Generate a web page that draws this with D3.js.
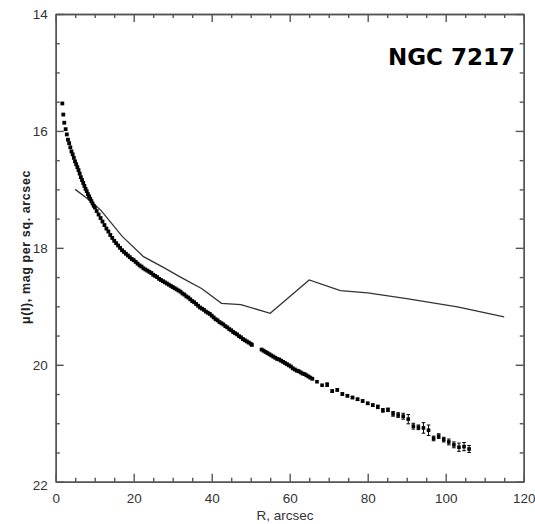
<!DOCTYPE html>
<html>
<head>
<meta charset="utf-8">
<script src="https://cdn.jsdelivr.net/npm/d3@7"></script>
<style>
  body { margin: 0; background: #fff; }
  svg { display: block; }
  .axis path, .axis line { stroke: #555; stroke-width: 1.4; }
  .axis text { fill: #333; font-family: "Liberation Sans", Arial, sans-serif; font-size: 13.5px; }
</style>
</head>
<body>
<svg width="535" height="524"></svg>
<script>
// ---- data ----
// observed profile, inner part (dense sampling)
var rInner = [1.7, 1.95, 2.2, 2.55, 2.85, 3.15, 3.45, 3.75, 4.05, 4.35, 4.65, 4.95, 5.25, 5.55, 5.85, 6.15, 6.45, 6.75,
  7.05, 7.35, 7.65, 7.95, 8.25, 8.55, 8.85, 9.15, 9.45, 9.75, 10.05,
  10.5, 11, 11.5, 12, 12.5, 13, 13.5, 14, 14.5, 15, 15.5, 16, 16.5, 17, 17.5, 18, 18.5, 19, 19.5, 20,
  20.5, 21, 21.5, 22, 22.5, 23, 23.5, 24, 24.5, 25, 25.5, 26, 26.5, 27, 27.5, 28, 28.5, 29, 29.5, 30,
  30.5, 31, 31.5, 32, 32.5, 33, 33.5, 34, 34.5, 35, 35.5, 36, 36.5, 37, 37.5, 38, 38.5, 39, 39.5, 40,
  40.5, 41, 41.5, 42, 42.5, 43, 43.5, 44, 44.5, 45, 45.5, 46, 46.5, 47, 47.5, 48, 48.5, 49, 49.5, 50, 50.3,
  52.8, 53.3, 53.8, 54.3, 54.8, 55.3, 55.8, 56.3, 56.8, 57.3, 57.8, 58.3, 58.8, 59.3, 59.8, 60.3, 60.8,
  61.3, 61.8, 62.3, 62.8, 63.3, 63.8, 64.3, 64.8, 65.3, 65.8];
var muInner = [15.53, 15.72, 15.86, 15.97, 16.06, 16.15, 16.21, 16.28, 16.35, 16.40, 16.46, 16.52, 16.57, 16.62, 16.67, 16.73, 16.79, 16.84,
  16.89, 16.94, 16.99, 17.03, 17.08, 17.12, 17.16, 17.20, 17.24, 17.28, 17.31,
  17.37, 17.43, 17.49, 17.55, 17.61, 17.67, 17.72, 17.78, 17.83, 17.88, 17.92, 17.96, 18.00, 18.04, 18.07, 18.10, 18.13, 18.16, 18.19, 18.21,
  18.24, 18.27, 18.30, 18.32, 18.35, 18.37, 18.39, 18.41, 18.43, 18.46, 18.48, 18.50, 18.53, 18.55, 18.57, 18.59, 18.61, 18.63, 18.65, 18.67,
  18.69, 18.71, 18.73, 18.75, 18.78, 18.80, 18.83, 18.85, 18.88, 18.91, 18.93, 18.96, 18.99, 19.02, 19.04, 19.06, 19.09, 19.11, 19.13, 19.16,
  19.19, 19.22, 19.24, 19.27, 19.29, 19.31, 19.34, 19.36, 19.39, 19.41, 19.44, 19.46, 19.48, 19.51, 19.53, 19.56, 19.58, 19.60, 19.62, 19.64, 19.66,
  19.74, 19.76, 19.78, 19.80, 19.82, 19.84, 19.86, 19.88, 19.90, 19.91, 19.93, 19.95, 19.97, 19.99, 20.01, 20.03, 20.06,
  20.08, 20.10, 20.11, 20.13, 20.15, 20.16, 20.18, 20.20, 20.22, 20.24];

// observed profile, outer part (with error bars)
var rOuter = [67.0, 68.3, 69.6, 70.9, 72.2, 73.5, 74.8, 76.1, 77.4, 78.7, 80.0, 81.3, 82.6, 83.9, 85.2, 86.5,
  87.8, 89.1, 90.4, 91.7, 93.0, 94.3, 95.6, 96.9, 98.2, 99.5, 100.8, 102.1, 103.4, 104.7, 106.0];
var muOuter = [20.29, 20.35, 20.34, 20.45, 20.43, 20.50, 20.53, 20.56, 20.59, 20.62, 20.66, 20.69, 20.72, 20.78, 20.77, 20.84,
  20.86, 20.88, 20.93, 21.05, 21.07, 21.08, 21.12, 21.26, 21.22, 21.28, 21.32, 21.37, 21.41, 21.40, 21.44];
var errOuter = [0, 0, 0.03, 0.02, 0.02, 0.02, 0.02, 0.02, 0.02, 0.02, 0.02, 0.02, 0.03, 0.03, 0.03, 0.04,
  0.04, 0.05, 0.08, 0.05, 0.04, 0.09, 0.09, 0.04, 0.04, 0.04, 0.05, 0.05, 0.07, 0.07, 0.06];

// solid line
var rLine = [5, 8, 11.5, 17, 22.5, 27.5, 32, 37.5, 42.5, 47.5, 55, 65, 73, 80, 90, 103, 115];
var muLine = [17.0, 17.15, 17.35, 17.8, 18.15, 18.33, 18.5, 18.7, 18.95, 18.97, 19.12, 18.55, 18.73, 18.77, 18.87, 19.01, 19.18];

var xMajor = [0, 20, 40, 60, 80, 100, 120];
var xMinor = [5, 10, 15, 25, 30, 35, 45, 50, 55, 65, 70, 75, 85, 90, 95, 105, 110, 115];
var yMajor = [14, 16, 18, 20, 22];
var yMinor = [14.5, 15, 15.5, 16.5, 17, 17.5, 18.5, 19, 19.5, 20.5, 21, 21.5];

// ---- layout ----
var svg = d3.select("svg"),
    plotL = 55.7, plotR = 523.7, plotT = 14, plotB = 481.7;

var x = d3.scaleLinear().domain([0, 120]).range([plotL, plotR]);
var y = d3.scaleLinear().domain([14, 22]).range([plotT, plotB]);

// axes: ticks point inward on all four sides
function addAxis(axis, tx, ty, vals, size, labels, pad) {
  var a = axis.tickValues(vals).tickSizeInner(size).tickSizeOuter(0).tickPadding(pad || 3);
  if (!labels) a.tickFormat("");
  svg.append("g").attr("class", "axis")
    .attr("transform", "translate(" + tx + "," + ty + ")")
    .call(a);
}
addAxis(d3.axisBottom(x), 0, plotB, xMajor, -8, true, 12);
addAxis(d3.axisBottom(x), 0, plotB, xMinor, -4, false);
addAxis(d3.axisTop(x), 0, plotT, xMajor, -8, false);
addAxis(d3.axisTop(x), 0, plotT, xMinor, -4, false);
addAxis(d3.axisLeft(y), plotL, 0, yMajor, -8, true, 8);
addAxis(d3.axisLeft(y), plotL, 0, yMinor, -4, false);
addAxis(d3.axisRight(y), plotR, 0, yMajor, -8, false);
addAxis(d3.axisRight(y), plotR, 0, yMinor, -4, false);

svg.selectAll(".axis text").filter(function() { return this.textContent === "22"; }).attr("dy", "0.55em");

// solid line
var line = d3.line()
    .x(function(d) { return x(d[0]); })
    .y(function(d) { return y(d[1]); });

svg.append("path")
    .datum(d3.zip(rLine, muLine))
    .attr("d", line)
    .attr("fill", "none")
    .attr("stroke", "#333")
    .attr("stroke-width", 1.3);

// inner points
var sq = 3.8;
svg.append("g").selectAll("rect")
    .data(d3.zip(rInner, muInner))
    .enter().append("rect")
    .attr("x", function(d) { return x(d[0]) - sq / 2; })
    .attr("y", function(d) { return y(d[1]) - sq / 2; })
    .attr("width", sq)
    .attr("height", sq)
    .attr("fill", "#000");

// outer points + error bars
var outer = svg.append("g").selectAll("g")
    .data(d3.zip(rOuter, muOuter, errOuter))
    .enter().append("g");

outer.filter(function(d) { return d[2] > 0; }).append("path")
    .attr("d", function(d) {
      var cx = x(d[0]), y0 = y(d[1] - d[2]), y1 = y(d[1] + d[2]);
      return "M" + (cx - 1.8) + "," + y0 + "H" + (cx + 1.8) +
             "M" + cx + "," + y0 + "V" + y1 +
             "M" + (cx - 1.8) + "," + y1 + "H" + (cx + 1.8);
    })
    .attr("stroke", "#000")
    .attr("stroke-width", 1)
    .attr("fill", "none");

outer.append("rect")
    .attr("x", function(d) { return x(d[0]) - 1.8; })
    .attr("y", function(d) { return y(d[1]) - 1.8; })
    .attr("width", 3.6)
    .attr("height", 3.6)
    .attr("fill", "#000");

// labels
svg.append("text")
    .attr("x", 515)
    .attr("y", 65)
    .attr("text-anchor", "end")
    .style("font-family", "'DejaVu Sans', Verdana, sans-serif")
    .style("font-weight", "bold")
    .style("font-size", "23px")
    .text("NGC 7217");

svg.append("text")
    .attr("x", 285)
    .attr("y", 520)
    .attr("text-anchor", "middle")
    .style("font-family", "'Liberation Sans', Arial, sans-serif")
    .style("font-size", "13.5px")
    .style("fill", "#333")
    .text("R, arcsec");

svg.append("text")
    .attr("transform", "translate(30,247) rotate(-90)")
    .attr("text-anchor", "middle")
    .style("font-family", "'Liberation Sans', Arial, sans-serif")
    .style("font-weight", "bold")
    .style("font-size", "12.5px")
    .style("letter-spacing", "0.6px")
    .style("fill", "#222")
    .text("\u03bc(I), mag per sq. arcsec");
</script>
</body>
</html>
